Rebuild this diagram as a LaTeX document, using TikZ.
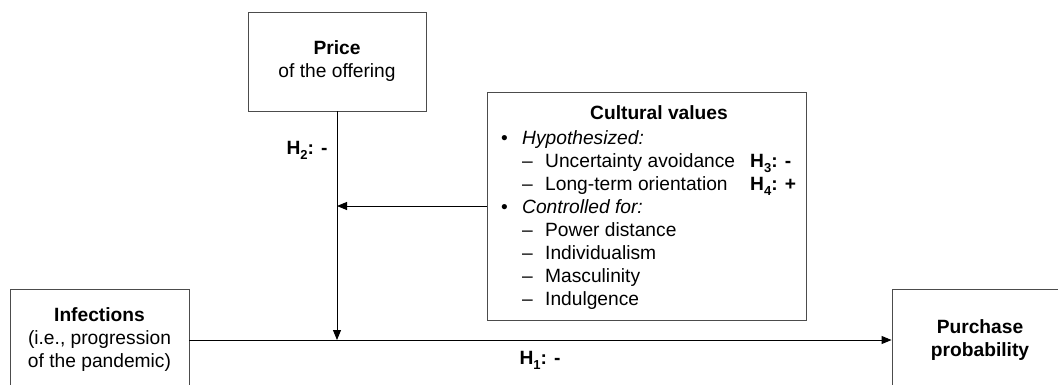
\documentclass[tikz,border=0pt]{standalone}
\usepackage{fontspec}
\setmainfont{Liberation Sans}
\usepackage{array}
\usetikzlibrary{arrows.meta}

\newcommand{\hsub}[1]{\raisebox{-5pt}{\fontsize{13}{13}\selectfont #1}}

\begin{document}
\begin{tikzpicture}[
    x=1pt, y=-1pt,
    txt/.style={font=\fontsize{19.2}{23}\selectfont},
    box/.style={
        rectangle,
        draw=black!70,
        line width=0.9pt,
        inner sep=0pt,
        align=center,
        txt
    },
    arrow/.style={-{Triangle[length=10pt,width=8pt]}, line width=0.9pt},
    hyp/.style={txt, inner sep=0pt}
]
\useasboundingbox (0,0) rectangle (1058,384);
\clip (0,0) rectangle (1058,384);

% Nodes
\node[box, minimum width=178pt, minimum height=99pt] (price) at (337,61.5) {\textbf{Price}\\of the offering};
\node[box, minimum width=179pt, minimum height=102pt] (infect) at (99.5,340) {\textbf{Infections}\\(i.e., progression\\of the pandemic)};
\node[box, minimum width=176pt, minimum height=102pt] (purchase) at (980,340) {\textbf{Purchase}\\\textbf{probability}};
\node[box, minimum width=319pt, minimum height=228pt] (cult) at (646.5,206) {};

% Cultural values content
\node[txt, inner sep=0pt] (culttitle) at (659,113) {\textbf{Cultural values}};
\node[txt, inner sep=0pt, anchor=base west] (cultlist) at (501,144) {%
    \begin{tabular}[t]{@{}p{21pt}@{}p{23pt}@{}p{205pt}@{}l@{}}
        \textbullet & \multicolumn{3}{@{}l@{}}{\textit{Hypothesized:}}\\
        & \textendash & Uncertainty avoidance & \textbf{H\hsub{3}: -}\\
        & \textendash & Long-term orientation & \textbf{H\hsub{4}: +}\\
        \textbullet & \multicolumn{3}{@{}l@{}}{\textit{Controlled for:}}\\
        & \textendash & Power distance & \\
        & \textendash & Individualism & \\
        & \textendash & Masculinity & \\
        & \textendash & Indulgence & \\
    \end{tabular}};

% Hypothesis labels
\node[hyp] (htwo) at (307,150) {\textbf{H\hsub{2}: -}};
\node[hyp] (hone) at (540,360) {\textbf{H\hsub{1}: -}};

% Arrows
\coordinate (mod) at (price.south |- infect.east);
\draw[arrow] (infect.east) -- (purchase.west);
\draw[arrow] (price.south) -- (mod);
\draw[arrow] (cult.west) -- (price.south |- cult.west);

\end{tikzpicture}
\end{document}
